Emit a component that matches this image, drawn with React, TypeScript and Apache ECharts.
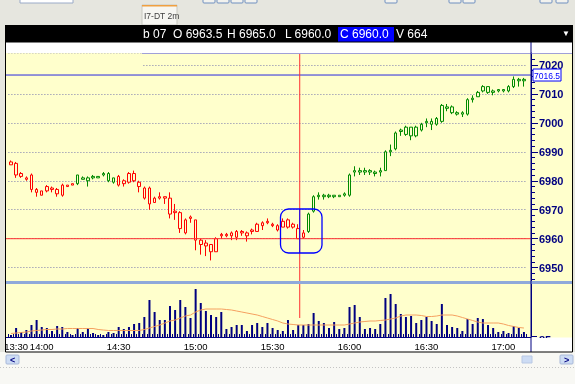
import React, { useEffect, useRef } from "react";
import * as echarts from "echarts";

// ---------- data ----------
const startMinute = 13 * 60 + 48; // first 2-minute bar
const categories: string[] = Array.from({ length: 101 }, (_, i) => {
  const m = startMinute + i * 2;
  return `${Math.floor(m / 60)}:${String(m % 60).padStart(2, "0")}`;
});

const open = [
  6986.5, 6986, 6982.5, 6981, 6982, 6977, 6975, 6976.5, 6977.5, 6977,
  6975, 6978.5, 6979, 6979, 6981, 6980, 6981, 6981.5, 6982.5, 6982.5,
  6979.5, 6981.5, 6980, 6979.5, 6982.5, 6979.5, 6974, 6977.5, 6972.5, 6974.5,
  6974.5, 6974, 6969.5, 6969, 6962, 6967.5, 6966.5, 6959.5, 6958.5, 6958,
  6955.5, 6961.5, 6961.5, 6962, 6960.5, 6962.5, 6962, 6963, 6962.5, 6965.5,
  6966, 6965, 6964.5, 6964, 6966.5, 6965, 6963.5, 6960.5, 6962.5, 6969.5,
  6975, 6975, 6975, 6975, 6974.5, 6975, 6975, 6983.5, 6983.5, 6983,
  6983, 6983, 6983, 6983.5, 6990, 6991, 6997.5, 6996, 6998.5, 6995.5,
  6997.5, 7000, 7000.5, 6999.5, 7000.5, 7005.5, 7005.5, 7003.5, 7003, 7003,
  7008, 7009, 7011, 7012.5, 7011, 7011.5, 7011, 7011, 7012.5, 7015,
  7014.5,
];
const close = [
  6985.5, 6982, 6981.5, 6980.5, 6977, 6976, 6976.5, 6978, 6977, 6975.5,
  6978.5, 6978, 6978.5, 6982, 6980.5, 6981, 6981.5, 6981, 6982, 6980,
  6981, 6978.5, 6979, 6982.5, 6980, 6978, 6977.5, 6972, 6974, 6974,
  6974, 6968.5, 6969, 6963.5, 6966.5, 6967, 6959.5, 6958, 6957.5, 6955.5,
  6960, 6961, 6961, 6961, 6962.5, 6962, 6961, 6962.5, 6965, 6964.5,
  6965.5, 6964.5, 6963, 6966, 6964, 6964, 6960, 6962, 6968.5, 6974.5,
  6974.5, 6974.5, 6974.5, 6974.5, 6975, 6975.5, 6982, 6983, 6983, 6983.5,
  6983.5, 6982.5, 6983.5, 6990, 6990.5, 6996.5, 6997, 6998.5, 6995.5, 6998.5,
  6999.5, 7000.5, 6999.5, 7001.5, 7006, 7005, 7003.5, 7003, 7003.5, 7008,
  7008.5, 7010.5, 7012.5, 7010.5, 7010.5, 7011, 7011.5, 7012.5, 7015, 7014.5,
  7015,
];
const low = [
  6985.5, 6981, 6981, 6980, 6976, 6974.5, 6975, 6976, 6976, 6974.5,
  6974.5, 6978, 6978.5, 6978.5, 6980.5, 6978, 6980.5, 6981, 6981.5, 6979.5,
  6979, 6978, 6978, 6979, 6979.5, 6976, 6973.5, 6970, 6972.5, 6973.5,
  6972, 6967, 6966.5, 6962, 6961.5, 6965.5, 6956, 6954.5, 6954, 6952.5,
  6955.5, 6960, 6960.5, 6959.5, 6959.5, 6961, 6959, 6961.5, 6962.5, 6963,
  6965, 6964, 6962.5, 6964, 6963.5, 6963.5, 6960, 6960, 6962, 6969,
  6973.5, 6973.5, 6974, 6974, 6974.5, 6974.5, 6974.5, 6981.5, 6982, 6982,
  6982, 6981.5, 6981.5, 6983.5, 6988.5, 6990.5, 6995.5, 6995.5, 6994, 6995,
  6997, 6998.5, 6997.5, 6999, 7000, 7004, 7003, 7002.5, 7002, 7002.5,
  7007, 7009, 7010.5, 7010, 7009.5, 7010.5, 7010.5, 7010.5, 7012, 7012.5,
  7012.5,
];
const high = [
  6987, 6986.5, 6983, 6981.5, 6982.5, 6977.5, 6976.5, 6978.5, 6978, 6977.5,
  6979, 6978.5, 6979, 6982, 6981.5, 6981.5, 6982, 6981.5, 6983, 6983,
  6981, 6982, 6980.5, 6983, 6983.5, 6980, 6978, 6978, 6974.5, 6976,
  6974.5, 6976, 6972, 6969.5, 6967, 6968, 6966.5, 6960, 6959.5, 6958,
  6960.5, 6962, 6962, 6962.5, 6963, 6963, 6962.5, 6963.5, 6965.5, 6966,
  6967, 6965.5, 6965, 6967, 6967, 6965.5, 6965, 6963, 6969, 6975,
  6976, 6975.5, 6975.5, 6975, 6975, 6976, 6982.5, 6985, 6984.5, 6984.5,
  6984, 6983.5, 6984.5, 6990.5, 6992.5, 6997, 6998, 6999, 6998.5, 6999,
  7000, 7001.5, 7001.5, 7002, 7006.5, 7006.5, 7006, 7004, 7004, 7008.5,
  7009.5, 7011, 7013, 7012.5, 7011.5, 7011.5, 7011.5, 7013, 7016, 7015.5,
  7015.5,
];
// trend state of the colouring indicator (1 = up/green, -1 = down/red)
const trend = [
  -1, -1, -1, -1, -1, -1, -1, -1, -1, -1, -1, -1, -1,
  1, 1, 1, 1, 1, 1, 1, 1,
  -1, -1, -1, -1, -1, -1, -1, -1, -1, -1, -1, -1, -1, -1, -1, -1, -1, -1, -1,
  -1, -1, -1, -1, -1, -1, -1, -1, -1, -1, -1, -1, -1, -1, -1, -1, -1, -1,
  1, 1, 1, 1, 1, 1, 1, 1, 1, 1, 1, 1, 1, 1, 1, 1, 1, 1, 1, 1, 1, 1,
  1, 1, 1, 1, 1, 1, 1, 1, 1, 1, 1, 1, 1, 1, 1, 1, 1, 1, 1, 1, 1, 1, 1,
];
const volume = [
  110, 495, 275, 385, 660, 935, 550, 495, 330, 605,
  550, 275, 110, 495, 275, 495, 220, 110, 110, 275,
  220, 550, 440, 550, 715, 770, 1100, 2035, 1375, 935,
  935, 1705, 1485, 2035, 1650, 1045, 2640, 1870, 1430, 1210,
  1100, 1375, 440, 550, 660, 660, 330, 660, 770, 550,
  770, 495, 385, 330, 935, 385, 664, 660, 715, 1320,
  880, 770, 495, 825, 440, 495, 1650, 1760, 1100, 440,
  495, 440, 715, 2145, 2365, 1815, 1265, 1100, 1155, 770,
  935, 1100, 880, 715, 1815, 660, 550, 495, 330, 990,
  715, 1045, 990, 660, 495, 275, 330, 220, 605, 495,
  275,
];
const volumeAvg = [
  193, 220, 248, 275, 330, 358, 385, 413, 413, 440,
  440, 468, 468, 468, 468, 468, 468, 413, 385, 358,
  358, 358, 358, 358, 358, 358, 413, 495, 578, 660,
  770, 880, 935, 1045, 1155, 1210, 1375, 1485, 1540, 1540,
  1540, 1540, 1513, 1485, 1430, 1375, 1320, 1265, 1210, 1128,
  1045, 963, 880, 770, 715, 688, 660, 660, 660, 660,
  660, 660, 660, 660, 660, 660, 715, 770, 825, 853,
  880, 880, 908, 935, 990, 1045, 1155, 1210, 1210, 1210,
  1183, 1128, 1128, 1155, 1210, 1210, 1210, 1155, 1073, 990,
  908, 825, 770, 770, 770, 770, 715, 633, 578, 523,
  495,
];
const timeTickLabels: [number, string][] = [
  [1, "13:30"], [6, "14:00"], [21, "14:30"], [36, "15:00"],
  [51, "15:30"], [66, "16:00"], [81, "16:30"], [96, "17:00"],
];
const lastPrice = 7016.5;
const crossIndex = 56;
const headerDate = "b 07";
const volumeScaleLabel = "85";
const tabTitle = "I7-DT 2m";
const priceMin = 6945.4;
const priceMax = 7024.1;
const volumeMax = 2900;

// ---------- styles ----------
const BG = "#FFFFCC";
const NAVY = "#000080";
const RED = "#ff0000";
const GREEN = "#008a00";
const FONT = "'Liberation Sans', Arial, sans-serif";

export default function App() {
  const ref = useRef<HTMLDivElement>(null);

  useEffect(() => {
    if (!ref.current) return;
    const chart = echarts.init(ref.current, null, { renderer: "svg" });

    const labelMap = new Map<number, string>(timeTickLabels);

    const candleData = open.map((o, i) => {
      const col = trend[i] > 0 ? GREEN : RED;
      return {
        value: [o, close[i], low[i], high[i]],
        itemStyle: { color: BG, color0: col, borderColor: col, borderColor0: col, borderWidth: 1 },
      };
    });

    const gridLeft = 8.4;
    const gridWidth = 518.1;

    chart.setOption({
      animation: false,
      grid: [
        { left: gridLeft, width: gridWidth, top: 53, height: 228 },
        { left: gridLeft, width: gridWidth, top: 284.3, height: 52.7 },
      ],
      xAxis: [
        {
          type: "category", gridIndex: 0, data: categories, boundaryGap: true,
          axisLine: { show: false }, axisTick: { show: false }, axisLabel: { show: false },
          splitLine: { show: false },
        },
        {
          type: "category", gridIndex: 1, data: categories, boundaryGap: true,
          axisLine: { show: true, lineStyle: { color: NAVY, width: 1 } },
          axisTick: { show: true, interval: 0, inside: true, length: 3, lineStyle: { color: NAVY } },
          axisLabel: {
            interval: (i: number) => labelMap.has(i),
            formatter: (_v: string, i: number) => labelMap.get(i) ?? "",
            color: "#000", fontSize: 9.5, fontFamily: FONT, margin: 4,
          },
          splitLine: { show: false },
        },
      ],
      yAxis: [
        {
          type: "value", gridIndex: 0, position: "right", offset: 4.5,
          min: priceMin, max: priceMax, splitNumber: 8, minInterval: 10, maxInterval: 10,
          axisLine: { show: true, lineStyle: { color: NAVY, width: 1 } },
          axisTick: { show: true, length: 7, lineStyle: { color: NAVY } },
          minorTick: { show: true, splitNumber: 5, length: 4, lineStyle: { color: NAVY } },
          axisLabel: {
            color: NAVY, fontWeight: "bold", fontSize: 11, fontFamily: FONT, margin: 8,
            showMinLabel: false, showMaxLabel: false,
            formatter: (v: number) => String(Math.round(v)),
          },
          splitLine: { show: true, lineStyle: { color: "#7c7cae", type: [1, 2], width: 1 } },
        },
        {
          type: "value", gridIndex: 1, position: "right", offset: 4.5,
          min: 0, max: volumeMax,
          axisLine: { show: true, lineStyle: { color: NAVY, width: 1 } },
          axisTick: { show: false }, axisLabel: { show: false }, splitLine: { show: false },
        },
      ],
      series: [
        {
          type: "candlestick", xAxisIndex: 0, yAxisIndex: 0, data: candleData,
          barWidth: 3, z: 3,
        },
        {
          type: "bar", xAxisIndex: 1, yAxisIndex: 1, data: volume, barWidth: 2,
          itemStyle: { color: NAVY }, z: 3,
        },
        {
          type: "line", xAxisIndex: 1, yAxisIndex: 1, data: volumeAvg, symbol: "none",
          lineStyle: { color: "#f5a060", width: 1 }, z: 4,
        },
      ],
    });

    const yLast = chart.convertToPixel({ yAxisIndex: 0 }, lastPrice) as number;
    const yCross = chart.convertToPixel({ yAxisIndex: 0 }, close[crossIndex]) as number;
    const xCross = chart.convertToPixel({ xAxisIndex: 0 }, crossIndex) as number;

    const txt = (x: number, y: number, text: string, fill: string, fontSize: number, extra: any = {}) => ({
      type: "text", x, y, z: extra.z ?? 20,
      style: {
        text, fill, fontSize, fontFamily: FONT, verticalAlign: "middle",
        align: extra.align ?? "left", fontWeight: extra.fontWeight ?? "normal",
      },
    });

    const elements: any[] = [
      // window chrome
      { type: "rect", z: -20, shape: { x: 0, y: 0, width: 575, height: 384 }, style: { fill: "#e6e6df" } },
      { type: "rect", z: -19, shape: { x: 0, y: 352, width: 575, height: 32 }, style: { fill: "#f8f8f4" } },
      { type: "line", z: -18, shape: { x1: 0, y1: 367.5, x2: 575, y2: 367.5 }, style: { stroke: "#c4c4c4", lineDash: [1, 2] } },
      { type: "rect", z: -18, shape: { x: 20, y: -1, width: 53, height: 4 }, style: { fill: "#fff", stroke: "#9aaac8" } },
      ...[203, 217, 231, 245, 385, 449, 463, 540, 556].map((bx) => ({
        type: "rect", z: -18, shape: { x: bx, y: -2, width: 12, height: 5, r: 1 }, style: { fill: "#f2f2ee", stroke: "#6f8fc0" },
      })),
      // tab
      { type: "rect", z: -18, shape: { x: 142, y: 5, width: 35, height: 20 }, style: { fill: "#f6f6f2", stroke: "#c8c8c0" } },
      { type: "rect", z: -17, shape: { x: 142, y: 5, width: 35, height: 1.5 }, style: { fill: "#f0a040" } },
      txt(144, 15.5, tabTitle, "#404040", 8.5),
      // chart frame
      { type: "rect", z: -16, shape: { x: 5, y: 42, width: 568, height: 310 }, style: { fill: "#ffffff" } },
      { type: "rect", z: -15, shape: { x: 5, y: 53, width: 568, height: 228 }, style: { fill: BG } },
      { type: "rect", z: -15, shape: { x: 5, y: 284, width: 568, height: 53.5 }, style: { fill: BG } },
      // header
      { type: "rect", z: 10, shape: { x: 5, y: 25, width: 568, height: 17 }, style: { fill: "#000" } },
      txt(143, 34, headerDate, "#fff", 12),
      txt(173, 34, `O ${open[crossIndex].toFixed(1)}`, "#fff", 12),
      txt(227, 34, `H ${high[crossIndex].toFixed(1)}`, "#fff", 12),
      txt(285, 34, `L ${low[crossIndex].toFixed(1)}`, "#fff", 12),
      { type: "rect", z: 11, shape: { x: 338, y: 27, width: 56, height: 15 }, style: { fill: "#0000ff" } },
      txt(340, 34, `C ${close[crossIndex].toFixed(1)}`, "#fff", 12),
      txt(396, 34, `V ${volume[crossIndex]}`, "#fff", 12),
      txt(566, 33, "▼", "#fff", 8, { align: "center" }),
      // top border line & left gap of top gridline
      { type: "rect", z: 5, shape: { x: 5.5, y: 53.5, width: 137, height: 13 }, style: { fill: BG } },
      { type: "line", z: 6, shape: { x1: 142, y1: 53.5, x2: 573, y2: 53.5 }, style: { stroke: "#a0a0d8", lineWidth: 1 } },
      // separator
      { type: "rect", z: 10, shape: { x: 5, y: 281, width: 568, height: 3 }, style: { fill: "#8fa9da" } },
      // x axis baseline extension
      { type: "line", z: 6, shape: { x1: 5, y1: 337.5, x2: 531, y2: 337.5 }, style: { stroke: NAVY, lineWidth: 1 } },
      // volume scale label (partly hidden by strip)
      { type: "line", z: 8, shape: { x1: 531, y1: 336.5, x2: 537, y2: 336.5 }, style: { stroke: NAVY, lineWidth: 1 } },
      txt(539, 339.5, volumeScaleLabel, NAVY, 11, { z: 8, fontWeight: "bold" }),
      { type: "rect", z: 9, shape: { x: 531.5, y: 338, width: 41, height: 14 }, style: { fill: "#fff" } },
      // vertical axis divider & frame
      { type: "line", z: 12, shape: { x1: 531, y1: 42, x2: 531, y2: 352 }, style: { stroke: NAVY, lineWidth: 1 } },
      { type: "rect", z: 12, shape: { x: 5.5, y: 42, width: 567, height: 310 }, style: { fill: "none", stroke: "#000", lineWidth: 1 } },
      // last price line + label
      { type: "line", z: 7, shape: { x1: 5, y1: yLast, x2: 531, y2: yLast }, style: { stroke: "#2828e0", lineWidth: 1 } },
      { type: "rect", z: 13, shape: { x: 533, y: yLast - 6, width: 28, height: 12 }, style: { fill: "#fff", stroke: "#0000ff", lineWidth: 1 } },
      txt(547, yLast + 0.5, lastPrice.toFixed(1), "#0000ff", 8.5, { align: "center", z: 14 }),
      // crosshair
      { type: "line", z: 7, shape: { x1: 5, y1: yCross, x2: 531, y2: yCross }, style: { stroke: "#ff3030", lineWidth: 1 } },
      { type: "line", z: 7, shape: { x1: xCross + 1.5, y1: 54, x2: xCross + 1.5, y2: 318 }, style: { stroke: "#ff3030", lineWidth: 1 } },
      { type: "line", z: 8, shape: { x1: xCross + 1.5, y1: 209, x2: xCross + 1.5, y2: 253 }, style: { stroke: "#0000ff", lineWidth: 1 } },
      { type: "rect", z: 8, shape: { x: 280.5, y: 209, width: 41.5, height: 44, r: 8 }, style: { fill: "none", stroke: "#0000ff", lineWidth: 1.3 } },
      // scroll buttons
      { type: "rect", z: 5, shape: { x: 6, y: 355, width: 13, height: 9, r: 1 }, style: { fill: "#cddcf4", stroke: "#a8b8d8" } },
      txt(12.5, 359.5, "<", NAVY, 9, { align: "center", fontWeight: "bold" }),
      { type: "rect", z: 5, shape: { x: 522, y: 356, width: 10, height: 7 }, style: { fill: "#cddcf4", stroke: "#b8c8e4" } },
      { type: "rect", z: 5, shape: { x: 560, y: 355, width: 13, height: 9, r: 1 }, style: { fill: "#cddcf4", stroke: "#a8b8d8" } },
      txt(566.5, 359.5, ">", NAVY, 9, { align: "center", fontWeight: "bold" }),
    ];

    chart.setOption({ graphic: { elements } });

    return () => chart.dispose();
  }, []);

  return (
    <div
      ref={ref}
      style={{ position: "fixed", left: 0, top: 0, width: 575, height: 384 }}
    />
  );
}
